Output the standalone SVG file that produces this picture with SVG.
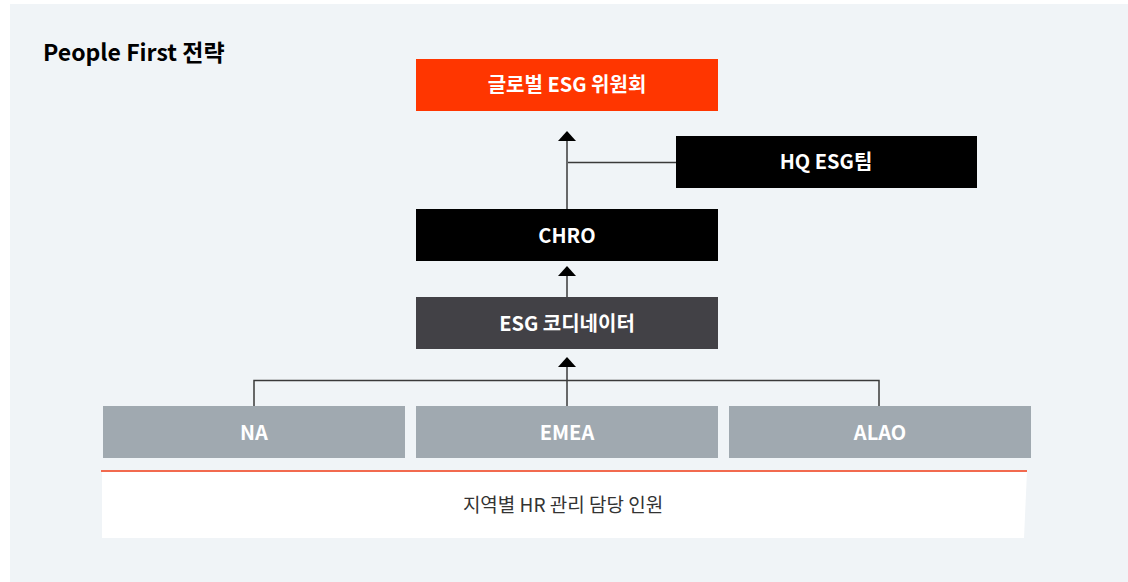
<svg xmlns="http://www.w3.org/2000/svg" width="1128" height="582" viewBox="0 0 1128 582">
<defs>
<style>
.lbl{font-family:"Noto Sans CJK KR","Noto Sans","Liberation Sans",sans-serif;font-weight:700;font-size:20px;fill:#ffffff;text-anchor:middle}
.ln{stroke:#3a3a3a;stroke-width:1.5;fill:none}
.ah{fill:#000000}
</style>
</defs>
<rect x="0" y="0" width="1128" height="582" fill="#ffffff"/>
<rect x="10" y="4" width="1118" height="578" fill="#f0f4f7"/>
<text x="43" y="61" font-family="'Noto Sans CJK KR','Noto Sans',sans-serif" font-weight="700" font-size="23" fill="#000000">People First 전략</text>
<g id="connectors">
<line class="ln" x1="567" y1="209" x2="567" y2="139"/>
<polygon class="ah" points="567,131 576,141 558,141"/>
<line class="ln" x1="568" y1="162.5" x2="676" y2="162.5"/>
<line class="ln" x1="567" y1="297" x2="567" y2="274"/>
<polygon class="ah" points="567,266 576,276 558,276"/>
<line class="ln" x1="567" y1="406" x2="567" y2="365"/>
<polygon class="ah" points="567,357 576,367 558,367"/>
<polyline class="ln" points="254,406 254,380.5 879,380.5 879,406"/>
</g>
<g id="global"><rect x="416" y="59" width="302" height="52" fill="#ff3600"/><text class="lbl" x="567" y="92">글로벌 ESG 위원회</text></g>
<g id="hq"><rect x="676" y="136" width="301" height="52" fill="#000000"/><text class="lbl" x="826" y="169">HQ ESG팀</text></g>
<g id="chro"><rect x="416" y="209" width="302" height="52" fill="#000000"/><text class="lbl" x="567" y="243">CHRO</text></g>
<g id="coord"><rect x="416" y="297" width="302" height="52" fill="#424146"/><text class="lbl" x="567" y="331">ESG 코디네이터</text></g>
<g id="na"><rect x="103" y="406" width="302" height="52" fill="#a0a9b0"/><text class="lbl" x="254" y="440">NA</text></g>
<g id="emea"><rect x="416" y="406" width="302" height="52" fill="#a0a9b0"/><text class="lbl" x="567" y="440">EMEA</text></g>
<g id="alao"><rect x="729" y="406" width="302" height="52" fill="#a0a9b0"/><text class="lbl" x="880" y="440">ALAO</text></g>
<g id="regional">
<polygon points="102,471 1027,471 1024,538 102,538" fill="#ffffff"/>
<line x1="101" y1="471" x2="1027" y2="471" stroke="#f26a4f" stroke-width="2"/>
<text x="563" y="512" font-family="'Noto Sans CJK KR','Noto Sans',sans-serif" font-size="19" fill="#333333" text-anchor="middle">지역별 HR 관리 담당 인원</text>
</g>
</svg>
